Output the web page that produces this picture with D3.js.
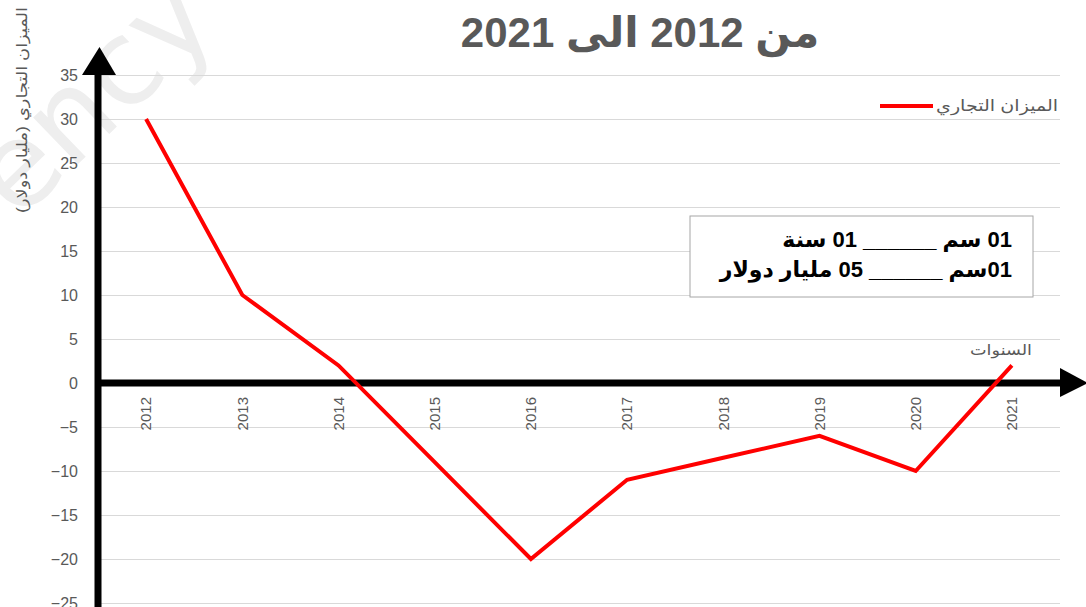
<!DOCTYPE html>
<html>
<head>
<meta charset="utf-8">
<script src="https://cdn.jsdelivr.net/npm/d3@7"></script>
<style>
  body { margin: 0; background: #fff; }
  svg { display: block; font-family: "Liberation Sans", "DejaVu Sans", sans-serif; }
</style>
</head>
<body>
<div id="chart"></div>
<script>
// data
var years = ["2012", "2013", "2014", "2015", "2016", "2017", "2018", "2019", "2020", "2021"];
var balance = [30, 10, 2, -9, -20, -11, -8.5, -6, -10, 2];
var yTicks = [35, 30, 25, 20, 15, 10, 5, 0, -5, -10, -15, -20, -25];

var width = 1086, height = 607;
var plot = { left: 98, right: 1060, top: 75, bottom: 603 };
var grey = "#595959";

var svg = d3.select("#chart")
  .append("svg")
  .attr("width", width)
  .attr("height", height);

// watermark
svg.append("text")
  .attr("transform", "translate(18,222) rotate(-44)")
  .attr("font-family", "DejaVu Sans")
  .attr("font-size", 118)
  .attr("fill", "#eeeeee")
  .text("ency");

var x = d3.scaleBand()
  .domain(years)
  .range([plot.left, plot.right]);

var y = d3.scaleLinear()
  .domain([-25, 35])
  .range([plot.bottom, plot.top]);

// gridlines
svg.append("g")
  .attr("transform", "translate(" + plot.left + ",0)")
  .call(d3.axisLeft(y).tickValues(yTicks).tickSize(-(plot.right - plot.left)).tickFormat(""))
  .call(g => g.select(".domain").remove())
  .selectAll("line")
  .attr("stroke", "#d9d9d9")
  .attr("stroke-width", 1);

// y tick labels
svg.append("g")
  .attr("transform", "translate(" + (plot.left - 20) + ",0)")
  .call(d3.axisLeft(y).tickValues(yTicks).tickSize(0).tickPadding(0))
  .call(g => g.select(".domain").remove())
  .selectAll("text")
  .attr("font-family", "Liberation Sans")
  .attr("font-size", 16)
  .attr("fill", grey);

// x tick labels, rotated
svg.append("g")
  .attr("transform", "translate(0," + y(0) + ")")
  .call(d3.axisBottom(x).tickSize(0).tickPadding(0))
  .call(g => g.select(".domain").remove())
  .selectAll("text")
  .attr("font-family", "Liberation Sans")
  .attr("font-size", 15)
  .attr("fill", grey)
  .attr("text-anchor", "end")
  .attr("transform", "translate(0,14) rotate(-90)")
  .attr("y", 0)
  .attr("dy", "0.35em");

// thick axes with arrows
svg.append("line")
  .attr("x1", plot.left).attr("x2", plot.left)
  .attr("y1", y(35)).attr("y2", height)
  .attr("stroke", "#000").attr("stroke-width", 7);
svg.append("path")
  .attr("d", "M" + (plot.left - 16) + "," + y(35) + "L" + (plot.left + 1.5) + "," + (y(35) - 28) + "L" + (plot.left + 18) + "," + y(35) + "Z")
  .attr("fill", "#000");

svg.append("line")
  .attr("x1", plot.left).attr("x2", plot.right)
  .attr("y1", y(0)).attr("y2", y(0))
  .attr("stroke", "#000").attr("stroke-width", 7);
svg.append("path")
  .attr("d", "M" + plot.right + "," + (y(0) - 15) + "L" + (plot.right + 28) + "," + y(0) + "L" + plot.right + "," + (y(0) + 14) + "Z")
  .attr("fill", "#000");

// the line
var line = d3.line()
  .x((d, i) => x(years[i]) + x.bandwidth() / 2)
  .y(d => y(d));

svg.append("path")
  .datum(balance)
  .attr("fill", "none")
  .attr("stroke", "#ff0000")
  .attr("stroke-width", 4)
  .attr("d", line);

// title
svg.append("text")
  .attr("x", 640).attr("y", 47)
  .attr("direction", "rtl")
  .attr("text-anchor", "middle")
  .attr("font-family", "Liberation Sans, DejaVu Sans")
  .attr("font-weight", "bold")
  .attr("font-size", 42)
  .attr("fill", grey)
  .text("من 2012 الى 2021");

// y axis title
svg.append("text")
  .attr("transform", "translate(27,110) rotate(-90)")
  .attr("direction", "rtl")
  .attr("text-anchor", "middle")
  .attr("font-size", 15)
  .attr("textLength", 206)
  .attr("lengthAdjust", "spacingAndGlyphs")
  .attr("fill", grey)
  .text("الميزان التجاري (مليار دولار)");

// x axis title
svg.append("text")
  .attr("x", 1032).attr("y", 355)
  .attr("direction", "rtl")
  .attr("text-anchor", "start")
  .attr("font-size", 15)
  .attr("textLength", 62)
  .attr("lengthAdjust", "spacingAndGlyphs")
  .attr("fill", grey)
  .text("السنوات");

// legend
svg.append("line")
  .attr("x1", 880).attr("x2", 933)
  .attr("y1", 106).attr("y2", 106)
  .attr("stroke", "#ff0000").attr("stroke-width", 4);
svg.append("text")
  .attr("x", 1058).attr("y", 111)
  .attr("direction", "rtl")
  .attr("text-anchor", "start")
  .attr("font-size", 16)
  .attr("textLength", 122)
  .attr("lengthAdjust", "spacingAndGlyphs")
  .attr("fill", grey)
  .text("الميزان التجاري");

// scale box
svg.append("rect")
  .attr("x", 690).attr("y", 216)
  .attr("width", 343).attr("height", 81)
  .attr("fill", "#fff")
  .attr("stroke", "#a6a6a6");

var boxLines = ["01 سم ______ 01 سنة", "01سم ______ 05 مليار دولار"];
svg.selectAll(".scale")
  .data(boxLines)
  .enter()
  .append("text")
  .attr("class", "scale")
  .attr("x", 1012)
  .attr("y", (d, i) => 247 + i * 30)
  .attr("direction", "rtl")
  .attr("text-anchor", "start")
  .attr("font-weight", "bold")
  .attr("font-size", 22)
  .attr("fill", "#000")
  .text(d => d);
</script>
</body>
</html>
